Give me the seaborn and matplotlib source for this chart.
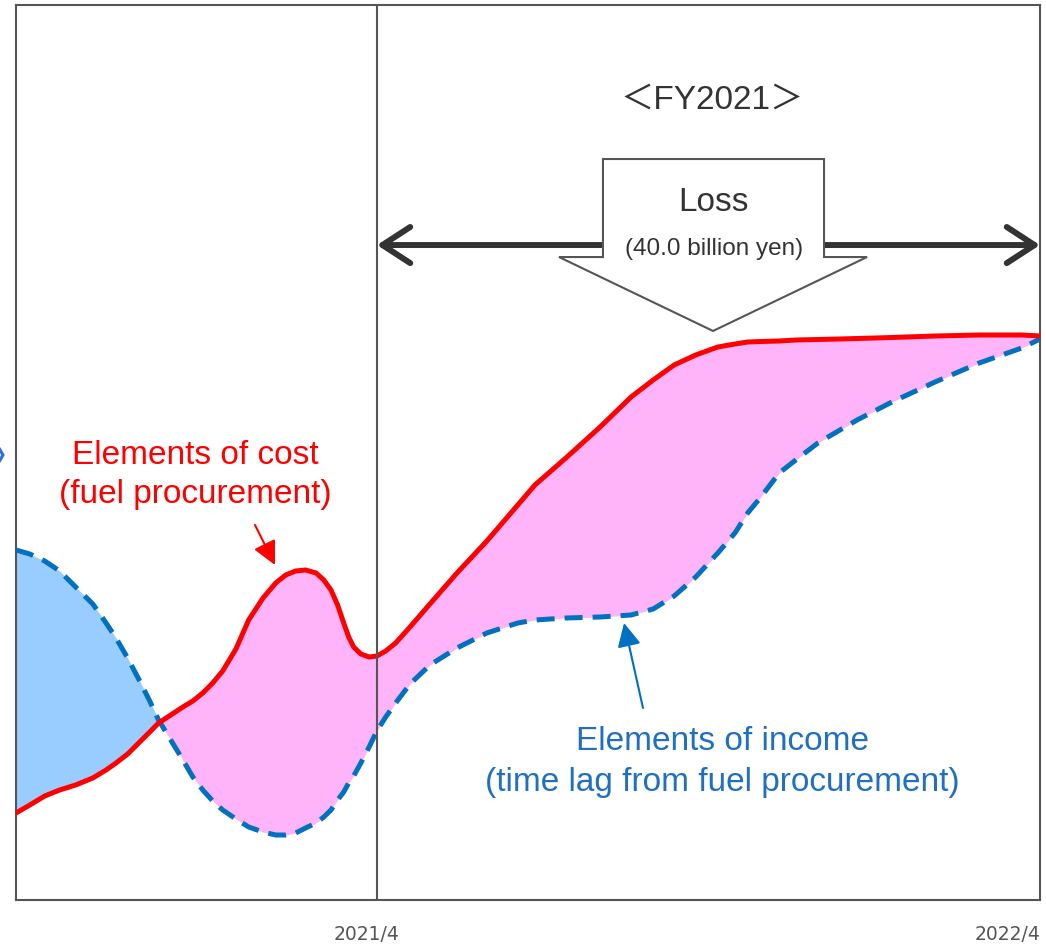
import matplotlib
matplotlib.use("Agg")
import matplotlib.pyplot as plt
import numpy as np
import pandas as pd
import seaborn as sns
from matplotlib.patches import Polygon
from matplotlib.lines import Line2D
from matplotlib.transforms import ScaledTranslation

FIGURE_SIZE = (10.46, 9.46)
DPI = 100
COST_COLOR = "#ff0000"
INCOME_COLOR = "#0070c0"
LOSS_FILL = "#ffb4fa"
GAIN_FILL = "#99ccff"
GRID_COLOR = "#555555"
TEXT_COLOR = "#333333"

# months relative to 2021/4
months = [-6.53, -6.28, -6.01, -5.74, -5.45, -5.14, -4.90, -4.72, -4.51, -4.31,
          -4.11, -3.95, -3.73, -3.51, -3.33, -3.15, -2.97, -2.79, -2.55, -2.32,
          -2.06, -1.83, -1.65, -1.47, -1.29, -1.10, -0.96, -0.83, -0.71, -0.60,
          -0.51, -0.42, -0.29, -0.14, 0.00, 0.16, 0.34, 0.60, 0.96, 1.45,
          1.99, 2.55, 2.86, 3.42, 4.04, 4.60, 5.00, 5.38, 5.77, 6.17,
          6.48, 6.71, 6.95, 7.28, 7.58, 7.98, 8.38, 8.69, 9.32, 10.10,
          10.90, 11.67, 12.00]

# elements of cost (fuel procurement)
cost = [8.7, 9.5, 10.4, 11.0, 11.5, 12.2, 13.0, 13.7, 14.6, 15.7,
        16.8, 17.7, 18.5, 19.3, 19.9, 20.7, 21.7, 22.9, 25.1, 28.0,
        30.2, 31.7, 32.5, 32.9, 33.0, 32.7, 32.0, 31.0, 29.5, 27.7,
        26.3, 25.3, 24.6, 24.3, 24.4, 24.9, 25.7, 27.3, 29.6, 32.7,
        35.9, 39.5, 41.5, 44.2, 47.3, 50.3, 52.0, 53.5, 54.5, 55.3,
        55.6, 55.8, 55.85, 55.9, 56.0, 56.05, 56.1, 56.15, 56.25, 56.4,
        56.5, 56.5, 56.4]

# elements of income (time lag from fuel procurement)
income = [35.0, 34.6, 33.9, 32.9, 31.3, 29.6, 27.7, 26.2, 24.2, 22.1,
          19.9, 18.0, 16.0, 14.0, 12.3, 11.0, 9.9, 9.0, 8.1, 7.3,
          6.8, 6.5, 6.5, 6.7, 7.2, 7.7, 8.3, 9.0, 10.0, 10.8,
          11.7, 12.4, 13.7, 15.3, 16.9, 18.3, 19.7, 21.6, 23.5, 25.2,
          26.7, 27.7, 28.0, 28.2, 28.3, 28.5, 29.1, 30.4, 32.3, 34.7,
          36.7, 38.7, 40.3, 42.7, 44.0, 45.7, 47.0, 48.0, 49.8, 51.8,
          53.7, 55.2, 56.1]

tick_positions = [0, 12]
tick_labels = ["2021/4", "2022/4"]


def plot_chart():
    sns.set_theme(style="white")
    plt.rcParams["font.family"] = ["Liberation Sans", "Noto Sans CJK JP", "DejaVu Sans"]

    df = pd.DataFrame({"month": months, "cost": cost, "income": income})

    fig = plt.figure(figsize=FIGURE_SIZE, dpi=DPI)
    ax = fig.add_axes([16 / 1046, 46 / 946, 1024 / 1046, 895 / 946])
    ax.set_xlim(-6.53, 12.0)
    ax.set_ylim(0, 89.5)

    # shaded areas between the two curves
    x = df["month"].values
    c = df["cost"].values
    i = df["income"].values
    ax.fill_between(x, c, i, where=c >= i, interpolate=True,
                    color=LOSS_FILL, linewidth=0, zorder=1)
    ax.fill_between(x, c, i, where=i >= c, interpolate=True,
                    color=GAIN_FILL, linewidth=0, zorder=1)

    # curves
    sns.lineplot(data=df, x="month", y="cost", ax=ax, color=COST_COLOR,
                 linewidth=3.6, zorder=4, solid_capstyle="round",
                 solid_joinstyle="round")
    sns.lineplot(data=df, x="month", y="income", ax=ax, color=INCOME_COLOR,
                 linewidth=3.6, linestyle=(0, (3.6, 2.0)), zorder=3)

    # fiscal year boundary
    ax.axvline(0, color=GRID_COLOR, linewidth=1.5, zorder=5)

    # frame
    for spine in ax.spines.values():
        spine.set_visible(True)
        spine.set_color(GRID_COLOR)
        spine.set_linewidth(1.5)

    ax.set_xticks(tick_positions)
    ax.set_xticklabels(tick_labels)
    ax.set_yticks([])
    ax.set_xlabel("")
    ax.set_ylabel("")
    ax.tick_params(axis="x", length=0, pad=18, labelsize=13.5, labelcolor=GRID_COLOR)
    labels = ax.get_xticklabels()
    for lbl in labels:
        lbl.set_family("DejaVu Sans")
    labels[0].set_horizontalalignment("center")
    labels[0].set_transform(labels[0].get_transform()
                            + ScaledTranslation(-0.10, 0, fig.dpi_scale_trans))
    labels[1].set_horizontalalignment("right")

    # double-headed period arrow
    ax.annotate("", xy=(0.3525, 0.7318), xytext=(1.0, 0.7318),
                xycoords="axes fraction", textcoords="axes fraction",
                arrowprops=dict(arrowstyle="<->,head_length=1.0,head_width=0.65",
                                mutation_scale=20, color="#333333", lw=4.3,
                                shrinkA=0, shrinkB=0, capstyle="round",
                                joinstyle="round"),
                zorder=6)

    # block arrow with loss label
    block = Polygon([(0.5732, 0.8279), (0.7891, 0.8279), (0.7891, 0.7184),
                     (0.8311, 0.7184), (0.6807, 0.6358), (0.5303, 0.7184),
                     (0.5732, 0.7184)], closed=True, transform=ax.transAxes,
                    facecolor="white", edgecolor=GRID_COLOR, linewidth=1.5,
                    zorder=7)
    ax.add_patch(block)

    ax.text(0.6797, 0.8939, "＜FY2021＞", transform=ax.transAxes, ha="center",
            va="center", fontsize=24, color=TEXT_COLOR, zorder=8)
    ax.text(0.6816, 0.7788, "Loss", transform=ax.transAxes, ha="center",
            va="center", fontsize=24, color=TEXT_COLOR, zorder=8)
    ax.text(0.6816, 0.7274, "(40.0 billion yen)", transform=ax.transAxes,
            ha="center", va="center", fontsize=17.5, color=TEXT_COLOR, zorder=8)

    # curve labels
    ax.text(0.1748, 0.4749, "Elements of cost\n(fuel procurement)",
            transform=ax.transAxes, ha="center", va="center", fontsize=24,
            color=COST_COLOR, linespacing=1.33, zorder=8)
    ax.annotate("", xy=(0.2529, 0.3743), xytext=(0.2334, 0.4190),
                xycoords="axes fraction", textcoords="axes fraction",
                arrowprops=dict(arrowstyle="-|>,head_length=0.8,head_width=0.4",
                                mutation_scale=18, color=COST_COLOR, lw=1.5,
                                shrinkA=0, shrinkB=0), zorder=8)

    ax.text(0.6895, 0.1542, "Elements of income\n(time lag from fuel procurement)",
            transform=ax.transAxes, ha="center", va="center", fontsize=24,
            color="#1f6fc5", linespacing=1.38, zorder=8)
    ax.annotate("", xy=(0.5938, 0.3095), xytext=(0.6123, 0.2145),
                xycoords="axes fraction", textcoords="axes fraction",
                arrowprops=dict(arrowstyle="-|>,head_length=0.8,head_width=0.4",
                                mutation_scale=18, color=INCOME_COLOR, lw=1.5,
                                shrinkA=0, shrinkB=0), zorder=8)

    # clipped chevron mark at the left edge
    fig.add_artist(Line2D([-4 / 1046, 3 / 1046, -4 / 1046],
                          [1 - 443 / 946, 1 - 455 / 946, 1 - 467 / 946],
                          transform=fig.transFigure, color="#2a6df4",
                          linewidth=2.2, solid_joinstyle="miter"))

    fig.savefig("out.png", dpi=DPI, facecolor="white")


def main():
    plot_chart()


if __name__ == "__main__":
    main()
